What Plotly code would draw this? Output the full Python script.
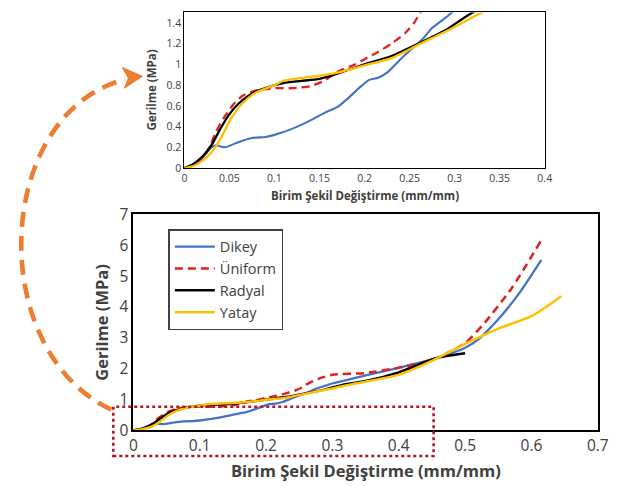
import plotly.graph_objects as go

# ---------------- data ----------------
dikey_x = [0, 0.01, 0.02, 0.03, 0.035, 0.045, 0.06, 0.075, 0.09, 0.1, 0.12, 0.14, 0.155, 0.17, 0.18,
           0.195, 0.205, 0.215, 0.225, 0.24, 0.25, 0.265, 0.275, 0.29, 0.3, 0.35, 0.4, 0.45, 0.5,
           0.52, 0.55, 0.58, 0.615]
dikey_y = [0, 0.03, 0.1, 0.2, 0.22, 0.2, 0.25, 0.29, 0.3, 0.32, 0.38, 0.46, 0.53, 0.59, 0.66,
           0.78, 0.85, 0.87, 0.92, 1.05, 1.13, 1.25, 1.35, 1.45, 1.52, 1.78, 2.03, 2.3, 2.68,
           2.95, 3.6, 4.4, 5.53]

uniform_x = [0, 0.01, 0.02, 0.028, 0.035, 0.045, 0.055, 0.065, 0.08, 0.1, 0.12, 0.14, 0.155, 0.165,
             0.175, 0.19, 0.2, 0.215, 0.23, 0.245, 0.255, 0.262, 0.28, 0.3, 0.35, 0.4, 0.45, 0.5,
             0.53, 0.57, 0.615]
uniform_y = [0, 0.03, 0.1, 0.2, 0.35, 0.5, 0.62, 0.7, 0.75, 0.77, 0.77, 0.79, 0.84, 0.9,
             0.95, 1.0, 1.05, 1.12, 1.2, 1.3, 1.4, 1.5, 1.68, 1.8, 1.86, 2.03, 2.28, 2.83,
             3.5, 4.6, 6.17]

radyal_x = [0, 0.01, 0.02, 0.03, 0.04, 0.05, 0.06, 0.07, 0.08, 0.09, 0.1, 0.11, 0.13, 0.15,
            0.17, 0.2, 0.23, 0.26, 0.29, 0.32, 0.35, 0.4, 0.45, 0.47, 0.5]
radyal_y = [0, 0.04, 0.11, 0.22, 0.38, 0.52, 0.62, 0.69, 0.74, 0.77, 0.8, 0.82, 0.84, 0.86,
            0.91, 1.0, 1.08, 1.2, 1.33, 1.5, 1.6, 1.88, 2.3, 2.4, 2.5]

yatay_x = [0, 0.01, 0.02, 0.03, 0.04, 0.05, 0.06, 0.07, 0.08, 0.1, 0.11, 0.13, 0.15, 0.17,
           0.2, 0.23, 0.26, 0.3, 0.33, 0.35, 0.4, 0.45, 0.5, 0.55, 0.6, 0.645]
yatay_y = [0, 0.02, 0.07, 0.15, 0.28, 0.45, 0.58, 0.67, 0.73, 0.8, 0.84, 0.87, 0.89, 0.92,
           0.99, 1.06, 1.19, 1.36, 1.5, 1.58, 1.8, 2.25, 2.8, 3.3, 3.7, 4.35]

series_names = ["Dikey", "Üniform", "Radyal", "Yatay"]

main_xticks = [0, 0.1, 0.2, 0.3, 0.4, 0.5, 0.6, 0.7]
main_xtext = ["0", "0.1", "0.2", "0.3", "0.4", "0.5", "0.6", "0.7"]
main_yticks = [0, 1, 2, 3, 4, 5, 6, 7]
inset_xticks = [0, 0.05, 0.1, 0.15, 0.2, 0.25, 0.3, 0.35, 0.4]
inset_xtext = ["0", "0.05", "0.1", "0.15", "0.2", "0.25", "0.3", "0.35", "0.4"]
inset_yticks = [0, 0.2, 0.4, 0.6, 0.8, 1.0, 1.2, 1.4]
inset_ytext = ["0", "0.2", "0.4", "0.6", "0.8", "1", "1.2", "1.4"]

x_title = "Birim Şekil Değiştirme (mm/mm)"
y_title = "Gerilme (MPa)"

# ---------------- styles ----------------
W, H = 622, 486
# the page shows the figure with an 8px margin and fits the whole page into the window
OFF = 8
SX = (W + 2 * OFF) / W
SY = (H + 2 * OFF) / H
DX = 3  # small horizontal correction
FONT = "Open Sans"
styles = [
    dict(color="#4472C4", width=2.3),
    dict(color="#E0201E", width=2.5, dash="8px,5px"),
    dict(color="#000000", width=2.5),
    dict(color="#FFC000", width=2.5),
]
data = [(dikey_x, dikey_y), (uniform_x, uniform_y), (radyal_x, radyal_y), (yatay_x, yatay_y)]

fig = go.Figure()
for (xs, ys), name, st in zip(data, series_names, styles):
    fig.add_trace(go.Scatter(x=xs, y=ys, mode="lines", name=name, line=dict(shape="spline", smoothing=0.6, **st),
                             xaxis="x", yaxis="y"))
for (xs, ys), name, st in zip(data, series_names, styles):
    st2 = dict(st)
    st2["width"] = st["width"] - 0.2
    fig.add_trace(go.Scatter(x=xs, y=ys, mode="lines", name=name, showlegend=False,
                             line=dict(shape="spline", smoothing=0.6, **st2),
                             xaxis="x2", yaxis="y2"))

def px_x(p):
    return ((p + DX) * SX - OFF) / W

def px_y(p):
    return 1 - (p * SY - OFF) / H

main_dom_x = [px_x(134), min(1.0, px_x(598))]
main_dom_y = [px_y(432), px_y(213)]
ins_dom_x = [px_x(185), px_x(545)]
ins_dom_y = [px_y(166), min(0.999, px_y(4))]

axis_common = dict(showline=True, linecolor="#000000", mirror=True, showgrid=False, zeroline=False,
                   ticks="", fixedrange=True)

fig.update_layout(
    width=W, height=H, margin=dict(l=0, r=0, t=0, b=0),
    paper_bgcolor="white", plot_bgcolor="white",
    font=dict(family=FONT, color="#404040"),
    xaxis=dict(domain=main_dom_x, range=[0, 0.7], tickvals=main_xticks, ticktext=main_xtext,
               tickfont=dict(size=15.5, color="#404040"), linewidth=1.5, anchor="y", **axis_common),
    yaxis=dict(domain=main_dom_y, range=[0, 7], tickvals=main_yticks,
               tickfont=dict(size=15.5, color="#404040"), linewidth=1.5, anchor="x", **axis_common),
    xaxis2=dict(domain=ins_dom_x, range=[0, 0.4], tickvals=inset_xticks, ticktext=inset_xtext,
                tickfont=dict(size=10.5, color="#404040"), linewidth=1.2, anchor="y2", **axis_common),
    yaxis2=dict(domain=ins_dom_y, range=[0, 1.5], tickvals=inset_yticks, ticktext=inset_ytext,
                tickfont=dict(size=10.5, color="#404040"), linewidth=1.2, anchor="x2", **axis_common),
    legend=dict(x=px_x(169), y=px_y(228), xanchor="left", yanchor="top",
                bordercolor="#404040", borderwidth=1.5, bgcolor="white",
                font=dict(size=14.5, color="#404040", family=FONT), tracegroupgap=0,
                itemwidth=40),
    showlegend=True,
)

# axis titles as annotations
fig.add_annotation(x=(main_dom_x[0] + main_dom_x[1]) / 2, y=px_y(473), xref="paper", yref="paper",
                   xanchor="center", yanchor="middle",
                   text="<b>" + x_title + "</b>", showarrow=False, font=dict(size=16.5, color="#404040"))
fig.add_annotation(x=px_x(102), y=(main_dom_y[0] + main_dom_y[1]) / 2, xref="paper", yref="paper",
                   xanchor="center", yanchor="middle",
                   text="<b>" + y_title + "</b>", textangle=-90, showarrow=False,
                   font=dict(size=16.5, color="#404040"))
fig.add_annotation(x=(ins_dom_x[0] + ins_dom_x[1]) / 2, y=px_y(194), xref="paper", yref="paper",
                   xanchor="center", yanchor="middle",
                   text="<b>" + x_title + "</b>", showarrow=False, font=dict(size=11.5, color="#404040"))
fig.add_annotation(x=px_x(152), y=(ins_dom_y[0] + ins_dom_y[1]) / 2, xref="paper", yref="paper",
                   xanchor="center", yanchor="middle",
                   text="<b>" + y_title + "</b>", textangle=-90, showarrow=False,
                   font=dict(size=11.5, color="#404040"))

# dotted red rectangle (zoom region)
fig.add_shape(type="rect", xref="paper", yref="paper",
              x0=px_x(114), x1=px_x(434), y0=px_y(458), y1=px_y(408),
              line=dict(color="#B0172B", width=2.6, dash="dot"), layer="above")

# orange dashed arc with arrow head
def P(x, y):
    return f"{px_x(x):.5f},{px_y(y):.5f}"

arc = f"M {P(112, 411)} C {P(-15, 350)} {P(-5, 110)} {P(126, 76)}"
fig.add_shape(type="path", xref="paper", yref="paper", path=arc,
              line=dict(color="#ED7D31", width=4.6, dash="15px,9px"), layer="above")
head = f"M {P(143, 73)} L {P(123, 64)} L {P(129, 75)} L {P(125, 85)} Z"
fig.add_shape(type="path", xref="paper", yref="paper", path=head,
              fillcolor="#ED7D31", line=dict(color="#ED7D31", width=1), layer="above")

fig.write_html("out.html", config={"displayModeBar": False})
